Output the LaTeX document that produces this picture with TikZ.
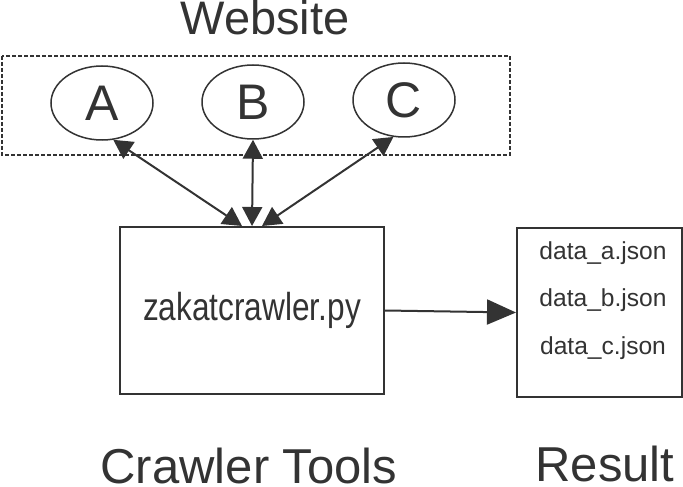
\documentclass[tikz,border=0pt]{standalone}
\usepackage{fontspec}
\setmainfont{Liberation Sans}
\usetikzlibrary{arrows.meta,shapes.geometric}
\definecolor{ink}{HTML}{333333}

\begin{document}
\begin{tikzpicture}[x=0.5pt,y=-0.5pt,
                    site/.style={draw=ink,line width=0.75pt,ellipse,minimum width=51pt,minimum height=37pt,inner sep=0pt,font=\fontsize{25}{30}\selectfont},
                    box/.style={draw=ink,line width=1pt,inner sep=0pt},
                    title/.style={anchor=base,text=ink,font=\fontsize{24.5}{29}\selectfont},
                    file/.style={anchor=base,text=ink,font=\fontsize{12.3}{15}\selectfont},
                    link/.style={ink,line width=1pt,{Triangle[length=9.5pt,width=10pt]}-{Triangle[length=9.5pt,width=10pt]}}]
                    \useasboundingbox (0,0) rectangle (683,486);
                    \node [title,font=\fontsize{23.5}{28}\selectfont] (website) at (265,35) {Website};
                    \draw [ink,line width=0.75pt,dash pattern=on 2pt off 1pt] (2,56) rectangle (510,155);
                    \node [site,text=ink] (a) at (102,103) {A};
                    \node [site,text=ink] (b) at (253,102) {B};
                    \node [site,text=ink] (c) at (404,100) {C};
                    \node [box,minimum width=132pt,minimum height=83.5pt,text=ink] (crawler) at (252,310.5)
                        {\scalebox{0.81}[1]{\fontsize{19.5}{23}\selectfont zakatcrawler.py}};
                    \node [box,minimum width=82.5pt,minimum height=84.5pt] (result) at (599.5,312.5) {};
                    \node [file] (dataa) at (603,259) {data\_a.json};
                    \node [file] (datab) at (603,306) {data\_b.json};
                    \node [file] (datac) at (603,354) {data\_c.json};
                    \draw [link] ([xshift=-5pt]crawler.north) -- (a.-73);
                    \draw [link] (crawler.north) -- (b.south);
                    \draw [link] ([xshift=5pt]crawler.north) -- (c.-106);
                    \draw [ink,line width=1pt,-{Triangle[length=14.5pt,width=12.5pt]}] (crawler.east) -- (result.west);
                    \node [title] (tools) at (249,483) {Crawler Tools};
                    \node [title] (resultlabel) at (605,481) {Result};
                \end{tikzpicture}
\end{document}
